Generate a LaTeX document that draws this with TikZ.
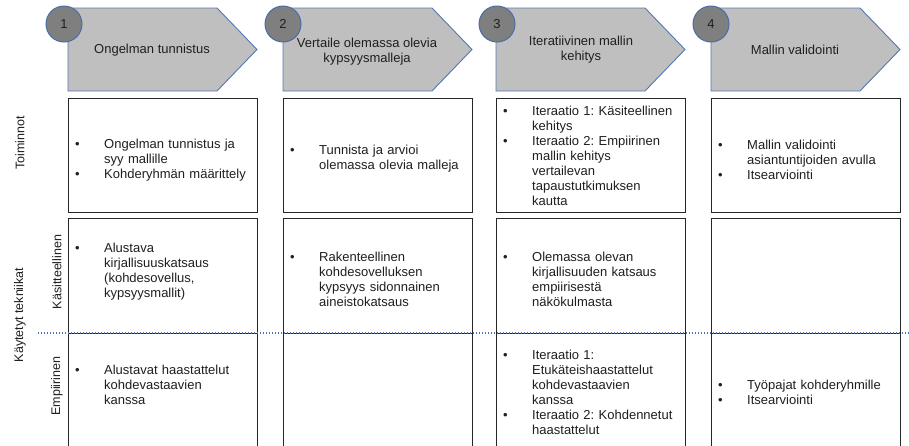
\documentclass[tikz,border=0pt]{standalone}
\usepackage{fontspec}
\setmainfont{Liberation Sans}
\definecolor{arrfill}{HTML}{BFBFBF}
\definecolor{arrline}{HTML}{5577B0}
\definecolor{circfill}{HTML}{7F7F7F}
\definecolor{circline}{HTML}{4A6DA8}
\definecolor{cellline}{HTML}{262626}
\definecolor{dotline}{HTML}{4472C4}
\definecolor{textcol}{HTML}{1F1F1F}
\newcommand{\itm}[1]{\par\noindent\hangindent=29pt\hangafter=1\makebox[29pt][l]{\textbullet}#1\par}
\newcommand{\nl}{\newline}
\frenchspacing
\begin{document}
\begin{tikzpicture}[x=1pt,y=-1pt,
  font=\fontsize{13}{15}\selectfont\frenchspacing,
  arrowbox/.style={fill=arrfill, draw=arrline, line width=0.9pt, line join=miter},
  numcirc/.style={circle, fill=circfill, draw=circline, line width=1pt, minimum size=36pt, inner sep=0pt, text=textcol},
  cell/.style={draw=cellline, line width=0.8pt, anchor=north west, minimum width=189pt, inner sep=0pt},
  txt/.style={anchor=west, text width=185pt, align=left, inner sep=0pt, text=textcol},
  head/.style={align=center, inner sep=0pt, text=textcol},
  side/.style={rotate=90, inner sep=0pt, text=textcol, font=\fontsize{12.5}{15}\selectfont},
  dotsep/.style={draw=dotline, line width=1.3pt, dash pattern=on 1.3pt off 1.7pt}]
\useasboundingbox (0,0) rectangle (909,445);
\clip (0,0) rectangle (909,445);
\fill[white] (0,0) rectangle (909,445);
% header pentagons
\foreach \L in {68,283,496,711}{
  \draw[arrowbox] (\L,8) -- ({\L+149},8) -- ({\L+189},49.5) -- ({\L+149},91) -- (\L,91) -- cycle;
}
% cells
\foreach \L [count=\i] in {68,283,496,711}{
  \node[cell, minimum height=114pt] (r1c\i) at (\L,98) {};
  \node[cell, minimum height=115pt] (r2c\i) at (\L,218) {};
  \node[cell, minimum height=125pt] (r3c\i) at (\L,333) {};
}
% separator
\coordinate (sepL) at (38,333);
\coordinate (sepR) at (909,333);
\draw[dotsep] (sepL) -- (sepR);
% circles
\node[numcirc] (n1) at (64,24) {1};
\node[numcirc] (n2) at (283,24) {2};
\node[numcirc] (n3) at (497,24) {3};
\node[numcirc] (n4) at (711,24) {4};
% header texts
\node[head] (h1) at (152,50) {Ongelman tunnistus};
\node[head] (h2) at (367,52) {Vertaile olemassa olevia\\kypsyysmalleja};
\node[head] (h3) at (581,50) {Iteratiivinen mallin\\kehitys};
\node[head] (h4) at (795,50) {Mallin validointi};
% side labels
\node[side] (s1) at (20,143) {Toiminnot};
\node[side] (s2) at (20,315) {Käytetyt tekniikat};
\node[side] (s3) at (57,272) {Käsitteellinen};
\node[side] (s4) at (57,386) {Empiirinen};
% row 1
\node[txt] (t11) at (75,157) {\itm{Ongelman tunnistus ja\nl syy mallille}\itm{Kohderyhmän määrittely}};
\node[txt] (t12) at (290,156) {\itm{Tunnista ja arvioi\nl olemassa olevia malleja}};
\node[txt] (t13) at (503,153) {\itm{Iteraatio 1: Käsiteellinen\nl kehitys}\itm{Iteraatio 2: Empiirinen\nl mallin kehitys\nl vertailevan\nl tapaustutkimuksen\nl kautta}};
\node[txt] (t14) at (718,157) {\itm{Mallin validointi\nl asiantuntijoiden avulla}\itm{Itsearviointi}};
% row 2
\node[txt] (t21) at (75,268.5) {\itm{Alustava\nl kirjallisuuskatsaus\nl (kohdesovellus,\nl kypsyysmallit)}};
\node[txt] (t22) at (290,276.5) {\itm{Rakenteellinen\nl kohdesovelluksen\nl kypsyys sidonnainen\nl aineistokatsaus}};
\node[txt] (t23) at (503,276.5) {\itm{Olemassa olevan\nl kirjallisuuden katsaus\nl empiirisestä\nl näkökulmasta}};
% row 3
\node[txt] (t31) at (75,382) {\itm{Alustavat haastattelut\nl kohdevastaavien\nl kanssa}};
\node[txt] (t33) at (503,390) {\itm{Iteraatio 1:\nl Etukäteishaastattelut\nl kohdevastaavien\nl kanssa}\itm{Iteraatio 2: Kohdennetut\nl haastattelut}};
\node[txt] (t34) at (718,390) {\itm{Työpajat kohderyhmille}\itm{Itsearviointi}};
\end{tikzpicture}
\end{document}
